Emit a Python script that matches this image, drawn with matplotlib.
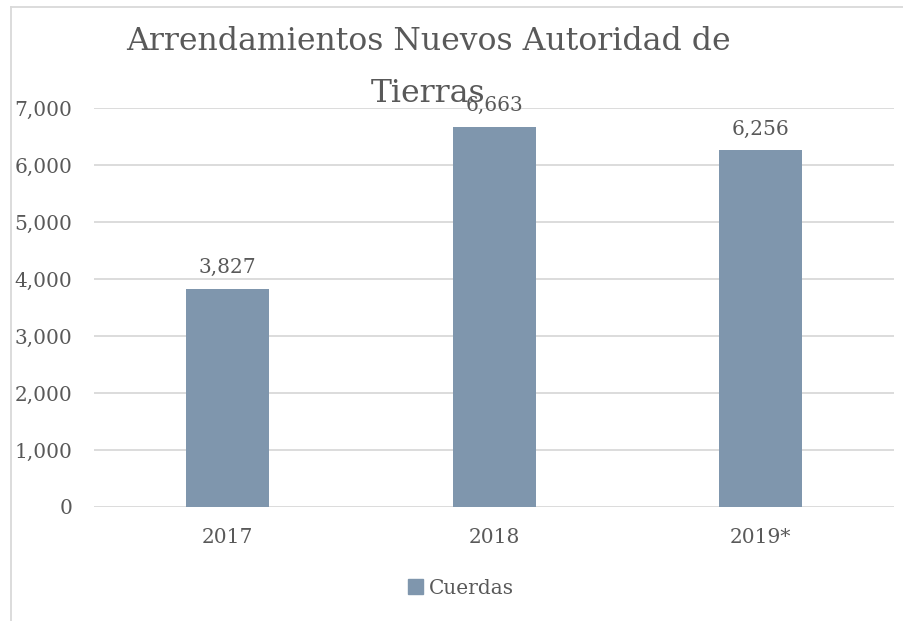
import matplotlib.pyplot as plt
from matplotlib.lines import Line2D
from matplotlib.patches import Patch
import numpy as np

# data
years = ['2017', '2018', '2019*']
cuerdas = [3827, 6663, 6256]
yticks = [0, 1000, 2000, 3000, 4000, 5000, 6000, 7000]

bar_color = '#7f96ad'
text_color = '#595959'
grid_color = '#d9d9d9'

plt.rcParams['font.family'] = ['DejaVu Serif']

fig = plt.figure(figsize=(9.04, 6.21), dpi=100)
ax = fig.add_axes([0.1045, 0.1836, 0.8845, 0.6425])

x = np.arange(len(years))
bars = ax.bar(x, cuerdas, width=0.31, color=bar_color, zorder=3)

for xi, v in zip(x, cuerdas):
    ax.annotate(f'{v:,}', (xi, v), xytext=(0, 8.5), textcoords='offset points',
                ha='center', va='bottom', fontsize=14.5, color=text_color)

ax.set_xlim(-0.5, len(years) - 0.5)
ax.set_ylim(0, 7000)
ax.set_xticks(x)
ax.set_xticklabels(years)
ax.set_yticks(yticks)
ax.set_yticklabels([f'{t:,}' for t in yticks])
ax.tick_params(axis='x', length=0, pad=15, labelsize=14.5, labelcolor=text_color)
ax.tick_params(axis='y', length=0, pad=16, labelsize=14.5, labelcolor=text_color)
ax.grid(axis='y', color=grid_color, linewidth=1.3, zorder=0)
for s in ax.spines.values():
    s.set_visible(False)

# title in two lines
fig.text(0.4735, 0.9195, 'Arrendamientos Nuevos Autoridad de', ha='center',
         va='baseline', fontsize=22.7, color=text_color)
fig.text(0.4735, 0.836, 'Tierras', ha='center', va='baseline',
         fontsize=22.7, color=text_color)

fig.legend(handles=[Patch(color=bar_color, label='Cuerdas')], loc='center',
           bbox_to_anchor=(0.51, 0.053), frameon=False, fontsize=14.5,
           labelcolor=text_color, handlelength=0.7, handleheight=0.7,
           handletextpad=0.3)

# chart frame
fig.add_artist(Line2D([11 / 904, 11 / 904], [0, 1 - 7 / 621],
                      transform=fig.transFigure, color=grid_color, lw=1.3))
fig.add_artist(Line2D([11 / 904, 1], [1 - 7 / 621, 1 - 7 / 621],
                      transform=fig.transFigure, color=grid_color, lw=1.3))

fig.savefig('out.png', dpi=100)
